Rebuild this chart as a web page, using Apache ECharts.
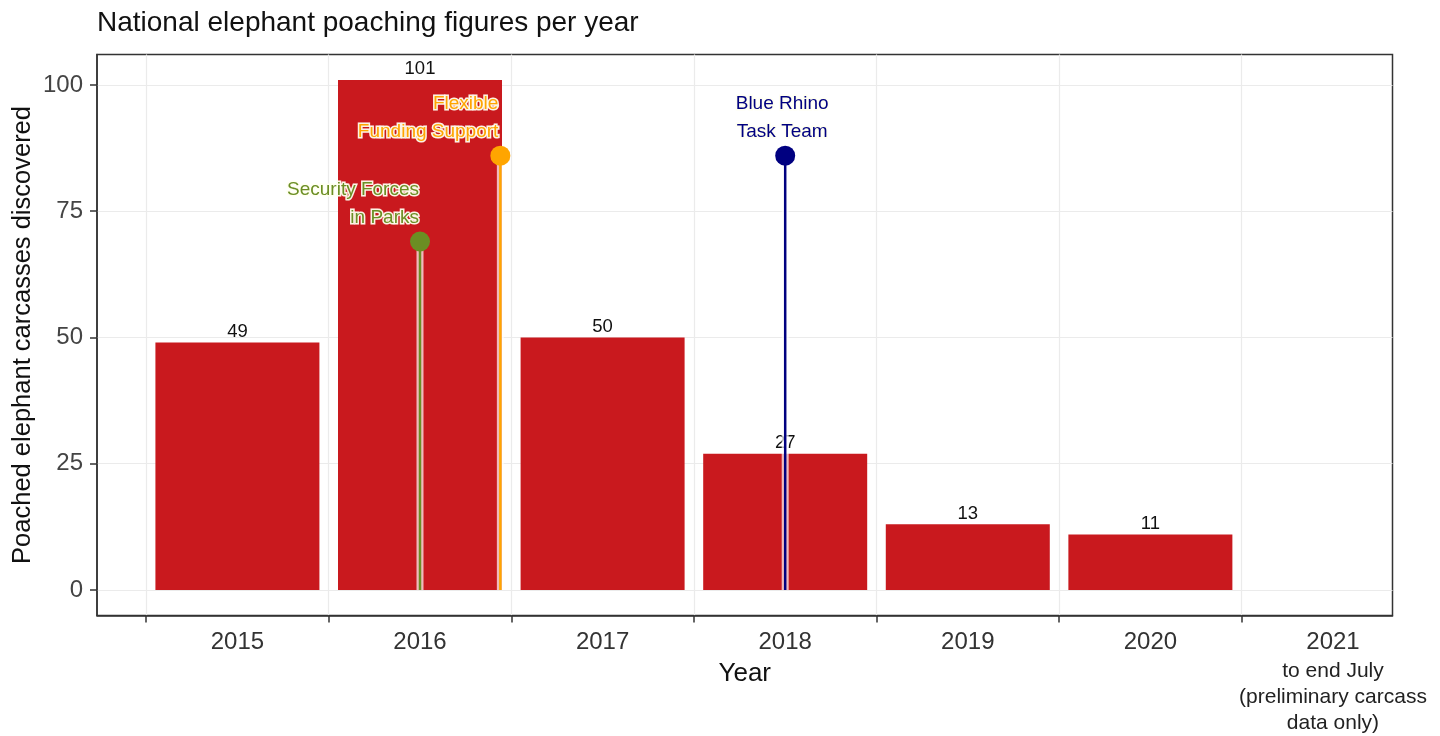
<!DOCTYPE html>
<html><head><meta charset="utf-8">
<script src="https://cdn.jsdelivr.net/npm/echarts@6/dist/echarts.min.js"></script>
<style>html,body{margin:0;padding:0;background:#fff}#c{width:1440px;height:736px}</style>
</head><body><div id="c"></div>
<script>
// ---- data ----
const years = [2015, 2016, 2017, 2018, 2019, 2020, 2021];
const carcasses = [49, 101, 50, 27, 13, 11, null];
const yTicks = [0, 25, 50, 75, 100];
const lastYearNote = ['to end July', '(preliminary carcass', 'data only)'];
const eventNames = ['Security Forces\nin Parks', 'Flexible\nFunding Support', 'Blue Rhino\nTask Team'];
const eventDates = [2016.5, 2016.94, 2018.5];
const eventLevels = [69, 86, 86];

// ---- styles ----
const FONT = '"Liberation Sans", Arial, sans-serif';
const EVENT_STYLE = [
  { color: '#6B8E23', align: 'right', dx: -1 },
  { color: '#FFA500', align: 'right', dx: -2 },
  { color: '#000080', align: 'center', dx: -3 }
];
const X_MIN = 2014.731, X_MAX = 2021.826;
const Y_MIN = -5.05, Y_MAX = 106.05;

const barData = [];
years.forEach((y, i) => { if (carcasses[i] != null) barData.push([y + 0.5, carcasses[i]]); });
const eventData = eventDates.map((d, i) => [d, eventLevels[i]]);

const chart = echarts.init(document.getElementById('c'), null, { renderer: 'canvas' });
chart.setOption({
  animation: false,
  backgroundColor: '#fff',
  textStyle: { fontFamily: FONT },
  title: {
    text: 'National elephant poaching figures per year',
    left: 97, top: 9, padding: 0,
    textStyle: { fontSize: 28, fontWeight: 'normal', color: '#111', fontFamily: FONT }
  },
  grid: {
    left: 97, right: 47.5, top: 54.4, bottom: 120.5,
    containLabel: false, outerBoundsMode: 'none',
    show: true, borderColor: '#333', borderWidth: 1.5, backgroundColor: '#fff'
  },
  xAxis: {
    type: 'value', min: X_MIN, max: X_MAX,
    name: 'Year', nameLocation: 'middle', nameGap: 45, nameMoveOverlap: false,
    nameTextStyle: { fontSize: 26, color: '#111', fontFamily: FONT },
    axisLine: { show: true, onZero: false, lineStyle: { color: '#333', width: 1.5 } },
    axisTick: { show: true, customValues: years, length: 7, lineStyle: { color: '#333', width: 1.5 } },
    splitLine: { show: true, lineStyle: { color: '#EBEBEB', width: 1.2 } },
    axisLabel: {
      customValues: years.map(y => y + 0.5),
      margin: 11,
      color: '#333',
      hideOverlap: false,
      formatter: function (v) {
        const yr = Math.floor(v + 1e-6);
        if (yr === years[years.length - 1]) {
          return '{y|' + yr + '}\n' + lastYearNote.map(s => '{n|' + s + '}').join('\n');
        }
        return '{y|' + yr + '}';
      },
      rich: {
        y: { fontSize: 24, lineHeight: 32, color: '#333', fontFamily: FONT },
        n: { fontSize: 21, lineHeight: 26, color: '#222', fontFamily: FONT }
      }
    }
  },
  yAxis: {
    type: 'value', min: Y_MIN, max: Y_MAX,
    name: 'Poached elephant carcasses discovered', nameLocation: 'middle', nameGap: 61, nameMoveOverlap: false,
    nameTextStyle: { fontSize: 25.5, color: '#111', fontFamily: FONT },
    axisLine: { show: true, onZero: false, lineStyle: { color: '#333', width: 1.5 } },
    axisTick: { show: true, customValues: yTicks, length: 7, lineStyle: { color: '#333', width: 1.5 } },
    axisLabel: { customValues: yTicks, fontSize: 24, color: '#444', margin: 14, fontFamily: FONT },
    splitLine: { show: true, lineStyle: { color: '#EBEBEB', width: 1.2 } }
  },
  series: [
    {
      type: 'bar',
      data: barData,
      barWidth: 164,
      itemStyle: { color: '#C9191E' },
      z: 2,
      label: {
        show: true, position: 'top', distance: 1,
        fontSize: 18.5, color: '#111', fontFamily: FONT
      }
    },
    {
      type: 'custom',
      data: eventData,
      z: 6,
      renderItem: function (params, api) {
        const i = params.dataIndex;
        const st = EVENT_STYLE[i];
        const top = api.coord([api.value(0), api.value(1)]);
        const base = api.coord([api.value(0), 0]);
        return {
          type: 'group',
          children: [
            { type: 'line', shape: { x1: top[0], y1: base[1], x2: top[0], y2: top[1] },
              style: { stroke: 'rgba(255,255,255,0.7)', lineWidth: 7 } },
            { type: 'line', shape: { x1: top[0], y1: base[1], x2: top[0], y2: top[1] },
              style: { stroke: st.color, lineWidth: 2.5 } },
            { type: 'circle', shape: { cx: top[0], cy: top[1], r: 10 },
              style: { fill: st.color } },
            { type: 'text', x: top[0] + st.dx, y: top[1] - 10,
              style: {
                text: eventNames[i], fill: st.color,
                stroke: 'rgba(255,255,240,0.95)', lineWidth: 3,
                fontSize: 19, fontFamily: FONT,
                align: st.align, verticalAlign: 'bottom', lineHeight: 28
              } }
          ]
        };
      }
    }
  ]
});
</script>
</body></html>
